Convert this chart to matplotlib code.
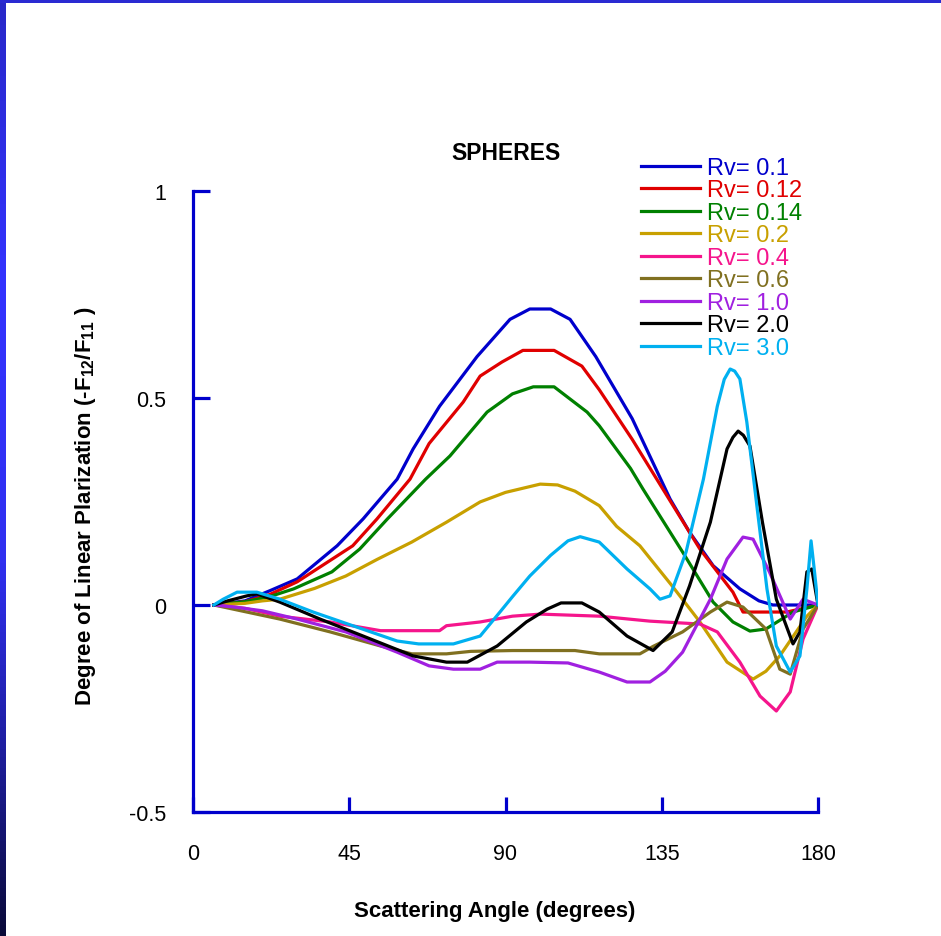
import numpy as np
import matplotlib
matplotlib.use("Agg")
import matplotlib.pyplot as plt
from matplotlib.colors import LinearSegmentedColormap

# ---------------- data ----------------
labels = ["Rv= 0.1", "Rv= 0.12", "Rv= 0.14", "Rv= 0.2", "Rv= 0.4",
          "Rv= 0.6", "Rv= 1.0", "Rv= 2.0", "Rv= 3.0"]
colors = ["#0000CC", "#E00000", "#008000", "#C8A000", "#F5158C",
          "#807020", "#A020E0", "#000000", "#00B0F0"]

ang_01 = [6, 15, 22, 30, 41.5, 49, 58.8, 63.4, 71, 81.8, 91.3, 97, 103, 108.6, 116,
          126.5, 137.4, 143, 149.8, 157.5, 163, 167, 180]
val_01 = [0, 0.01, 0.034, 0.063, 0.143, 0.208, 0.304, 0.377, 0.48, 0.60, 0.69, 0.715,
          0.715, 0.69, 0.60, 0.45, 0.256, 0.176, 0.095, 0.039, 0.01, 0.0, 0.0]

ang_012 = [6, 15, 22, 30, 46, 53, 62.5, 68, 77.8, 82.7, 89, 95, 104, 112, 117, 126.5,
           136.5, 146, 155.5, 158.4, 171, 180]
val_012 = [0, 0.008, 0.025, 0.056, 0.143, 0.208, 0.304, 0.39, 0.49, 0.553, 0.587, 0.615,
           0.615, 0.577, 0.52, 0.40, 0.264, 0.135, 0.031, -0.017, -0.017, 0]

ang_014 = [6, 15, 22, 29, 40, 48, 56, 67, 74, 84.7, 92, 98, 104, 113.5, 117, 126,
           129.6, 141, 149.8, 155.5, 160.4, 165, 172.8, 180]
val_014 = [0, 0.008, 0.02, 0.039, 0.08, 0.135, 0.208, 0.304, 0.36, 0.466, 0.51, 0.527,
           0.527, 0.466, 0.433, 0.33, 0.28, 0.128, 0.007, -0.041, -0.063, -0.058, -0.017, 0]

ang_02 = [6, 15, 20, 25, 35, 44, 53, 63, 73, 82.7, 90, 95, 100, 105, 110, 117, 122,
          128.7, 138, 146, 153.8, 161.3, 165, 169, 176.8, 180]
val_02 = [0, 0.004, 0.01, 0.014, 0.04, 0.07, 0.11, 0.152, 0.2, 0.249, 0.272, 0.282,
          0.292, 0.29, 0.275, 0.24, 0.19, 0.143, 0.046, -0.041, -0.138, -0.179, -0.16,
          -0.123, -0.027, 0]

ang_04 = [6, 15, 25, 39.5, 54, 71, 73, 82.7, 92, 100, 117, 131.6, 146, 151, 157.5,
          163.3, 168, 172, 175.7, 180]
val_04 = [0, -0.008, -0.027, -0.041, -0.062, -0.062, -0.05, -0.041, -0.027, -0.022,
          -0.027, -0.039, -0.046, -0.065, -0.138, -0.22, -0.256, -0.21, -0.082, 0]

ang_06 = [6, 15.5, 25, 39.5, 54, 63, 73, 80, 92, 110, 117, 128.7, 132.5, 141, 149,
          153.8, 158.4, 165, 169, 172, 175.7, 180]
val_06 = [0, -0.017, -0.034, -0.065, -0.099, -0.118, -0.118, -0.112, -0.11, -0.11,
          -0.118, -0.118, -0.10, -0.065, -0.017, 0.007, -0.005, -0.058, -0.155, -0.167,
          -0.058, 0]

ang_10 = [6, 12, 20, 30, 44, 58.8, 68, 75, 82.7, 87.6, 97, 108, 117, 125, 131.6, 136,
          141, 149, 153.8, 158.4, 161.3, 166, 172, 175.7, 180]
val_10 = [0, -0.005, -0.014, -0.034, -0.065, -0.114, -0.147, -0.155, -0.155, -0.138,
          -0.138, -0.14, -0.162, -0.186, -0.186, -0.16, -0.114, 0.014, 0.111, 0.164,
          0.159, 0.08, -0.034, 0.014, 0]

ang_20 = [6, 10, 15.5, 18.4, 25, 36.6, 49, 63.4, 73, 79, 87.6, 96, 102, 106, 112, 117,
          125, 132.5, 138, 143, 149, 153.8, 155.5, 157, 158.5, 160.4, 164, 168, 172.8,
          174.8, 176.8, 178.2, 180]
val_20 = [0, 0.01, 0.022, 0.027, 0.007, -0.034, -0.075, -0.123, -0.138, -0.138, -0.099,
          -0.041, -0.01, 0.005, 0.005, -0.017, -0.075, -0.11, -0.065, 0.046, 0.20, 0.377,
          0.405, 0.42, 0.41, 0.384, 0.20, 0.014, -0.094, -0.065, 0.08, 0.087, 0]

ang_30 = [6, 8.7, 12.7, 18.4, 25, 34.6, 46, 58.8, 65, 75, 82.7, 88.4, 92, 97, 103, 108,
          111.5, 117, 125, 131.6, 134.5, 137.4, 142, 147, 151, 153, 154.7, 156, 157.5,
          159.5, 162.4, 165.3, 168, 172, 174.8, 176.8, 178, 179, 180]
val_30 = [0, 0.014, 0.031, 0.031, 0.014, -0.017, -0.05, -0.087, -0.094, -0.094, -0.075,
          -0.017, 0.02, 0.07, 0.12, 0.155, 0.165, 0.152, 0.087, 0.039, 0.014, 0.022, 0.128,
          0.304, 0.48, 0.545, 0.57, 0.565, 0.546, 0.442, 0.239, 0.039, -0.099, -0.162,
          -0.123, 0.039, 0.155, 0.08, 0]

series_angles = [ang_01, ang_012, ang_014, ang_02, ang_04, ang_06, ang_10, ang_20, ang_30]
series_values = [val_01, val_012, val_014, val_02, val_04, val_06, val_10, val_20, val_30]

x_ticks = [0, 45, 90, 135, 180]
y_ticks = [-0.5, 0, 0.5, 1]
y_tick_labels = ["-0.5", "0", "0.5", "1"]

# ---------------- figure ----------------
W, H = 941, 937
fig = plt.figure(figsize=(W / 100, H / 100), dpi=100)
fig.patch.set_facecolor("white")
plt.rcParams["font.family"] = ["Liberation Sans", "DejaVu Sans"]
plt.rcParams["mathtext.fontset"] = "custom"
plt.rcParams["mathtext.rm"] = "Liberation Sans"
plt.rcParams["mathtext.bf"] = "Liberation Sans:bold"

# slide decoration: left gradient band and top band
band = fig.add_axes([0, 0, 6 / W, 1])
grad = np.linspace(0, 1, 256).reshape(-1, 1)
cmap = LinearSegmentedColormap.from_list(
    "slide", [(0.0, "#2828C8"), (0.3, "#3333FF"), (0.6, "#3030F0"),
              (0.8, "#1E1EA0"), (1.0, "#0A0A38")])
band.imshow(grad, aspect="auto", cmap=cmap, extent=[0, 1, 1, 0])
band.set_axis_off()
top = fig.add_axes([0, 1 - 4 / H, 1, 4 / H])
top.set_facecolor("#2A2AD2")
top.set_xticks([]); top.set_yticks([])
for s in top.spines.values():
    s.set_visible(False)

# main axes
ax_l, ax_r = 193 / W, 818 / W
ax_b, ax_t = 1 - 813 / H, 1 - 192 / H
ax = fig.add_axes([ax_l, ax_b, ax_r - ax_l, ax_t - ax_b])

for lab, col, a, v in zip(labels, colors, series_angles, series_values):
    ax.plot(a, v, color=col, lw=2.3, label=lab, solid_joinstyle="round")

ax.set_xlim(0, 180)
ax.set_ylim(-0.5, 1)
ax.set_xticks(x_ticks)
ax.set_xticklabels([str(t) for t in x_ticks])
ax.set_yticks(y_ticks)
ax.set_yticklabels(y_tick_labels)

for side in ("top", "right"):
    ax.spines[side].set_visible(False)
for side in ("left", "bottom"):
    ax.spines[side].set_color("#0000CC")
    ax.spines[side].set_linewidth(2.3)
ax.tick_params(axis="y", direction="in", length=12.5, width=2.3, color="#0000CC",
               pad=19, labelsize=15.5, labelcolor="black")
ax.tick_params(axis="x", direction="in", length=11, width=2.3, color="#0000CC",
               pad=22, labelsize=15.5, labelcolor="black")

ax.set_title("SPHERES", fontsize=16.5, fontweight="bold", pad=23)

fig.text(495 / W, 1 - 912 / H, "Scattering Angle (degrees)", fontsize=16,
         fontweight="bold", ha="center", va="center")
fig.text(86 / W, 1 - 506 / H,
         r"Degree of Linear Plarization (-F$_{\mathbf{12}}$/F$_{\mathbf{11}}$ )",
         fontsize=16, fontweight="bold", ha="center", va="center", rotation=90)

leg = ax.legend(loc="upper left", bbox_to_anchor=(641 / W, 1 - 158 / H),
                bbox_transform=fig.transFigure, frameon=False, fontsize=17,
                handlelength=2.5, handletextpad=0.28, labelspacing=0.02,
                borderpad=0, borderaxespad=0, labelcolor="linecolor")

fig.savefig("out.png", dpi=100)
